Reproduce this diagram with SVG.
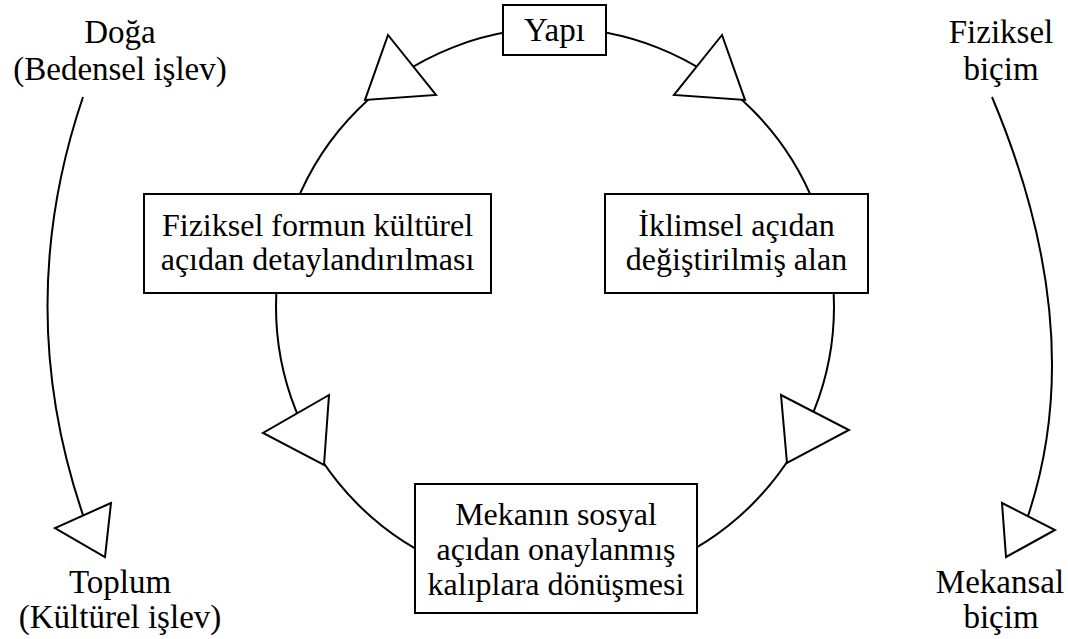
<svg xmlns="http://www.w3.org/2000/svg" width="1068" height="639" viewBox="0 0 1068 639">
  <style>
    .line { fill: none; stroke: #000; stroke-width: 2; }
    .head { fill: #fff; stroke: #000; stroke-width: 2; stroke-linejoin: miter; }
    .box { fill: #fff; stroke: #000; stroke-width: 2; }
    .t { font-family: "Liberation Serif", "Times New Roman", serif; font-size: 32px; fill: #000; text-anchor: middle; }
    .lbl { font-size: 33px; }
  </style>

  <!-- connectors: the central cycle and the two outer arcs -->
  <g id="connectors">
    <circle class="line" cx="555" cy="307" r="279"/>
    <path class="line" d="M83,97 Q12,306 83,515"/>
    <path class="line" d="M992,97 Q1090,330 1028,516"/>
    <!-- open triangular arrowheads -->
    <polygon class="head" points="388,35 436,95 365,100"/>
    <polygon class="head" points="722,35 674,95 745,100"/>
    <polygon class="head" points="329,395 263,433 324,465"/>
    <polygon class="head" points="781,395 849,430 787,463"/>
    <polygon class="head" points="111,503 55,528 105,557"/>
    <polygon class="head" points="1002,503 1055,530 1006,557"/>
  </g>

  <g id="yapi">
    <rect class="box" x="503" y="5" width="103" height="50"/>
    <text class="t lbl" x="554.5" y="41">Yapı</text>
  </g>

  <g id="fiziksel-form">
    <rect class="box" x="144" y="194" width="347" height="99"/>
    <text class="t" x="317.5" y="236">Fiziksel formun kültürel</text>
    <text class="t" x="317.5" y="270">açıdan detaylandırılması</text>
  </g>

  <g id="iklimsel-alan">
    <rect class="box" x="605" y="194" width="263" height="99"/>
    <text class="t" x="736.5" y="236">İklimsel açıdan</text>
    <text class="t" x="736.5" y="270">değiştirilmiş alan</text>
  </g>

  <g id="mekan-kaliplari">
    <rect class="box" x="415" y="484" width="282" height="129"/>
    <text class="t" x="556" y="525">Mekanın sosyal</text>
    <text class="t" x="556" y="560">açıdan onaylanmış</text>
    <text class="t" x="556" y="595">kalıplara dönüşmesi</text>
  </g>

  <g id="doga">
    <text class="t lbl" x="120" y="43">Doğa</text>
    <text class="t lbl" x="120" y="80">(Bedensel işlev)</text>
  </g>

  <g id="toplum">
    <text class="t lbl" x="120" y="593">Toplum</text>
    <text class="t lbl" x="120" y="628">(Kültürel işlev)</text>
  </g>

  <g id="fiziksel-bicim">
    <text class="t lbl" x="1001" y="43">Fiziksel</text>
    <text class="t lbl" x="1001" y="80">biçim</text>
  </g>

  <g id="mekansal-bicim">
    <text class="t lbl" x="1000" y="593">Mekansal</text>
    <text class="t lbl" x="1001" y="628">biçim</text>
  </g>
</svg>
